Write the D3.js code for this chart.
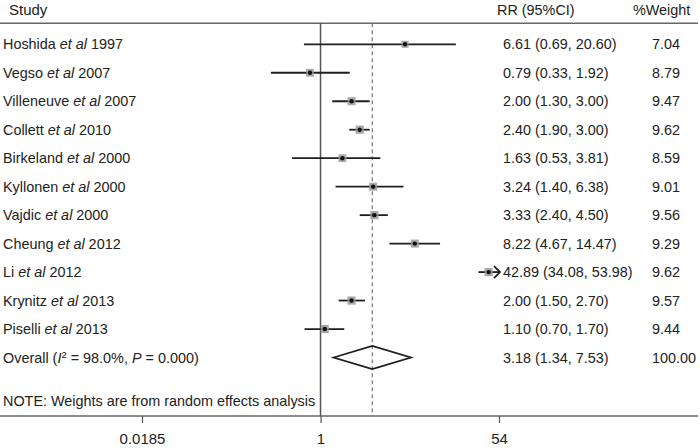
<!DOCTYPE html>
<html>
<head>
<meta charset="utf-8">
<script src="https://cdn.jsdelivr.net/npm/d3@7"></script>
<style>
  html, body { margin: 0; padding: 0; background: #fff; }
  svg { display: block; }
  text { font-family: "Liberation Sans", Arial, Helvetica, sans-serif; fill: #222; }
</style>
</head>
<body>
<svg id="chart" width="700" height="448"></svg>
<script>
// ---- data ----
const authors = ["Hoshida", "Vegso", "Villeneuve", "Collett", "Birkeland", "Kyllonen", "Vajdic", "Cheung", "Li", "Krynitz", "Piselli"];
const years   = [1997, 2007, 2007, 2010, 2000, 2000, 2000, 2012, 2012, 2013, 2013];
const rr      = [6.61, 0.79, 2.00, 2.40, 1.63, 3.24, 3.33, 8.22, 42.89, 2.00, 1.10];
const lower   = [0.69, 0.33, 1.30, 1.90, 0.53, 1.40, 2.40, 4.67, 34.08, 1.50, 0.70];
const upper   = [20.60, 1.92, 3.00, 3.00, 3.81, 6.38, 4.50, 14.47, 53.98, 2.70, 1.70];
const weights = [7.04, 8.79, 9.47, 9.62, 8.59, 9.01, 9.56, 9.29, 9.62, 9.57, 9.44];
const overallEst = [3.18, 1.34, 7.53];
const overallWeight = "100.00";
const overallStats = ["98.0%", "0.000"];
const tickValues = [0.0185, 1, 54];
const tickLabels = ["0.0185", "1", "54"];
const headers = ["Study", "RR (95%CI)", "%Weight"];
const noteText = "NOTE: Weights are from random effects analysis";

// ---- layout ----
const svg = d3.select("#chart");
const W = 700, H = 448;
const fs = 14.4;
const x = d3.scaleLog().domain([0.0185, 54]).range([142, 499]);
const y = d3.scaleLinear().domain([0, 11]).range([44.3, 357.5]);
const topLineY = 23.3, axisY = 416;
const colRR = 503, colW = 652;
const ink = "#1e1e1e";

// headers
svg.append("text").attr("x", 9).attr("y", 10).attr("dy", "0.35em").attr("font-size", fs + 0.6).text(headers[0]);
svg.append("text").attr("x", 497).attr("y", 10).attr("dy", "0.35em").attr("font-size", fs).text(headers[1]);
svg.append("text").attr("x", 633).attr("y", 10).attr("dy", "0.35em").attr("font-size", fs).text(headers[2]);

// horizontal rules
svg.append("line").attr("x1", 0).attr("x2", 698).attr("y1", topLineY).attr("y2", topLineY)
  .attr("stroke", "#666").attr("stroke-width", 1.6);
svg.append("line").attr("x1", 0).attr("x2", 698).attr("y1", axisY).attr("y2", axisY)
  .attr("stroke", "#666").attr("stroke-width", 1.6);

// null line at 1
svg.append("line").attr("x1", x(1)).attr("x2", x(1)).attr("y1", topLineY).attr("y2", axisY)
  .attr("stroke", "#555").attr("stroke-width", 1.5);
// dashed overall line
svg.append("line").attr("x1", x(overallEst[0])).attr("x2", x(overallEst[0])).attr("y1", topLineY).attr("y2", axisY)
  .attr("stroke", "#777").attr("stroke-width", 1.2).attr("stroke-dasharray", "4,3");

// study labels
const idx = d3.range(authors.length);
const labels = svg.append("g").selectAll("text").data(idx).join("text")
  .attr("x", 3).attr("y", i => y(i)).attr("dy", "0.35em").attr("font-size", fs);
labels.append("tspan").text(i => authors[i] + " ");
labels.append("tspan").attr("font-style", "italic").text("et al");
labels.append("tspan").text(i => " " + years[i]);

// CI lines
const xmax = x.domain()[1];
svg.append("g").selectAll("line").data(idx).join("line")
  .attr("x1", i => x(lower[i])).attr("x2", i => x(Math.min(upper[i], xmax)))
  .attr("y1", i => y(i)).attr("y2", i => y(i))
  .attr("stroke", ink).attr("stroke-width", 1.8);

// arrow for Li (CI reaching the axis limit)
const arrowIdx = idx.filter(i => upper[i] > 50);
svg.append("g").selectAll("path").data(arrowIdx).join("path")
  .attr("d", i => {
    const ex = x(Math.min(upper[i], xmax)) + 1, ey = y(i);
    return `M${ex - 6},${ey - 6} L${ex},${ey} L${ex - 6},${ey + 6}`;
  })
  .attr("fill", "none").attr("stroke", ink).attr("stroke-width", 1.8);

// weight boxes (area proportional to weight)
const boxSide = w => 8.2 * Math.sqrt(w / 9.62);
svg.append("g").selectAll("rect").data(idx).join("rect")
  .attr("x", i => x(rr[i]) - boxSide(weights[i]) / 2)
  .attr("y", i => y(i) - boxSide(weights[i]) / 2)
  .attr("width", i => boxSide(weights[i])).attr("height", i => boxSide(weights[i]))
  .attr("fill", "#9a9a9a").attr("opacity", 0.85);
// point estimates
svg.append("g").selectAll("circle").data(idx).join("circle")
  .attr("cx", i => x(rr[i])).attr("cy", i => y(i)).attr("r", 2.2).attr("fill", "#111");

// overall diamond
const oy = y(11);
svg.append("path")
  .attr("d", `M${x(overallEst[1])},${oy} L${x(overallEst[0])},${oy - 11.5} L${x(overallEst[2])},${oy} L${x(overallEst[0])},${oy + 11.5} Z`)
  .attr("fill", "none").attr("stroke", ink).attr("stroke-width", 1.8).attr("stroke-linejoin", "miter");

// overall label
const ot = svg.append("text").attr("x", 3).attr("y", oy).attr("dy", "0.35em").attr("font-size", fs);
ot.append("tspan").text("Overall (");
ot.append("tspan").attr("font-style", "italic").text("I");
ot.append("tspan").attr("font-size", 9.5).attr("dy", "-0.5em").text("2");
ot.append("tspan").attr("dy", "0.33em").text(" = " + overallStats[0] + ", ");
ot.append("tspan").attr("font-style", "italic").text("P");
ot.append("tspan").text(" = " + overallStats[1] + ")");

// RR column
const fmt = d3.format(".2f");
svg.append("g").selectAll("text").data(idx).join("text")
  .attr("x", colRR).attr("y", i => y(i)).attr("dy", "0.35em").attr("font-size", fs)
  .text(i => `${fmt(rr[i])} (${fmt(lower[i])}, ${fmt(upper[i])})`);
svg.append("text").attr("x", colRR).attr("y", oy).attr("dy", "0.35em").attr("font-size", fs)
  .text(`${fmt(overallEst[0])} (${fmt(overallEst[1])}, ${fmt(overallEst[2])})`);

// weight column
svg.append("g").selectAll("text").data(idx).join("text")
  .attr("x", colW).attr("y", i => y(i)).attr("dy", "0.35em").attr("font-size", fs)
  .text(i => fmt(weights[i]));
svg.append("text").attr("x", colW).attr("y", oy).attr("dy", "0.35em").attr("font-size", fs).text(overallWeight);

// note
svg.append("text").attr("x", 3).attr("y", 401).attr("dy", "0.35em").attr("font-size", fs).text(noteText);

// axis
const axis = d3.axisBottom(x).tickValues(tickValues).tickFormat((d, i) => tickLabels[i]).tickSize(7);
const ag = svg.append("g").attr("transform", `translate(0,${axisY})`).call(axis);
ag.select(".domain").remove();
ag.selectAll(".tick line").attr("stroke", "#555").attr("stroke-width", 1.2);
ag.selectAll(".tick text").attr("y", 23).attr("dy", "0.35em")
  .attr("font-size", fs + 0.6).attr("font-family", "Liberation Sans, Arial, sans-serif").attr("fill", "#222");
</script>
</body>
</html>
